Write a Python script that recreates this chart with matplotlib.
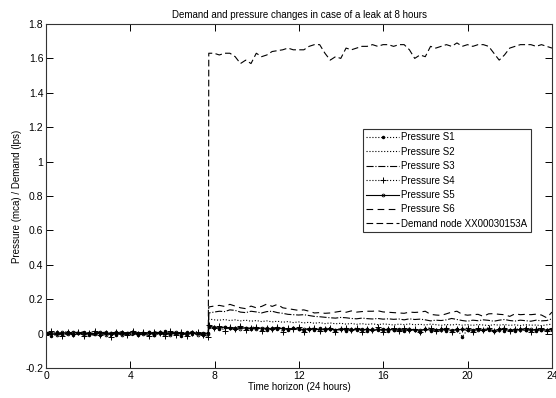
# Demand and pressure changes for a leak starting near hour 8
import numpy as np
import matplotlib.pyplot as plt

plt.rcParams['font.family'] = ['Liberation Sans', 'DejaVu Sans']

# readings before the leak (0 .. 7.7 h) and after it (7.72 .. 24 h)
s1_pre = [0.004, -0.012, 0.008, -0.003, 0.010, -0.009, 0.002, 0.012, -0.006, 0.005, -0.011,
          0.007, 0.000, -0.008, 0.011, -0.004, 0.006, -0.010, 0.003, 0.009, -0.007, 0.001,
          0.013, -0.005, 0.004, -0.012, 0.008, -0.002, 0.006, -0.009, 0.003]
s2_pre = [-0.006, 0.009, 0.002, -0.010, 0.007, 0.004, -0.005, 0.011, -0.008, 0.003, 0.006,
          -0.012, 0.008, 0.001, -0.006, 0.010, -0.003, 0.005, -0.009, 0.012, 0.000, -0.007,
          0.006, 0.009, -0.011, 0.004, -0.002, 0.010, -0.006, 0.002, 0.005]
s3_pre = [0.010, -0.004, -0.011, 0.006, 0.012, -0.007, 0.003, -0.002, 0.009, -0.012, 0.005,
          0.008, -0.006, 0.002, 0.013, -0.009, 0.000, 0.007, -0.004, -0.010, 0.011, 0.004,
          -0.008, 0.006, 0.009, -0.003, -0.011, 0.007, 0.002, -0.006, 0.008]
s4_pre = [-0.010, 0.014, 0.003, -0.016, 0.008, -0.002, 0.012, -0.013, 0.006, 0.015, -0.007,
          0.002, -0.018, 0.010, 0.004, -0.009, 0.016, -0.004, 0.007, -0.014, 0.011, 0.001,
          -0.012, 0.013, -0.006, 0.009, -0.015, 0.005, 0.012, -0.008, -0.017]
s5_pre = [0.006, 0.001, -0.007, 0.009, -0.004, 0.011, 0.003, -0.009, 0.005, -0.001, 0.010,
          -0.006, 0.004, 0.008, -0.010, 0.002, 0.012, -0.005, -0.002, 0.007, -0.008, 0.010,
          0.003, -0.006, 0.009, 0.001, -0.004, 0.011, -0.009, 0.006, 0.000]
s6_pre = [-0.003, 0.008, -0.009, 0.004, 0.010, -0.006, 0.001, 0.012, -0.004, -0.010, 0.007,
          0.003, -0.007, 0.011, -0.001, 0.006, -0.012, 0.008, 0.002, -0.005, 0.009, -0.008,
          0.005, 0.013, -0.003, -0.009, 0.006, 0.010, -0.007, 0.003, -0.004]
demand_pre = [0.002, -0.005, 0.006, 0.000, -0.008, 0.004, 0.007, -0.003, 0.001, -0.006, 0.008,
              -0.002, 0.005, -0.007, 0.003, 0.006, -0.004, 0.000, 0.009, -0.006, 0.002, 0.004,
              -0.009, 0.006, -0.001, 0.003, -0.005, 0.007, 0.000, -0.004, -0.020]

s1_post = [0.040, 0.035, 0.028, 0.038, 0.030, 0.026, 0.036, 0.031, 0.024, 0.034, 0.029,
           0.022, 0.033, 0.027, 0.035, 0.021, 0.030, 0.025, 0.018, 0.028, 0.023, 0.031,
           0.019, 0.026, 0.022, 0.029, 0.017, 0.025, 0.021, 0.027, 0.016, 0.024, 0.020,
           0.028, 0.018, 0.023, 0.026, 0.015, 0.022, 0.019, 0.012, 0.025, 0.017, 0.021,
           0.024, 0.016, 0.020, 0.027, -0.018, 0.022, 0.014, 0.025, 0.019, 0.021, 0.016,
           0.024, 0.018, 0.022, 0.015, 0.026, 0.019, 0.021, 0.017, 0.023, 0.020, 0.022]
s2_post = [0.085, 0.080, 0.078, 0.082, 0.076, 0.080, 0.074, 0.078, 0.072, 0.076, 0.070,
           0.074, 0.068, 0.072, 0.066, 0.070, 0.064, 0.068, 0.062, 0.066, 0.060, 0.064,
           0.058, 0.062, 0.057, 0.060, 0.055, 0.059, 0.054, 0.058, 0.053, 0.057, 0.052,
           0.056, 0.054, 0.050, 0.055, 0.052, 0.056, 0.051, 0.054, 0.050, 0.055, 0.052,
           0.048, 0.053, 0.050, 0.054, 0.049, 0.052, 0.048, 0.053, 0.050, 0.047, 0.052,
           0.049, 0.053, 0.048, 0.051, 0.047, 0.052, 0.049, 0.050, 0.046, 0.051, 0.055]
s3_post = [0.120, 0.125, 0.130, 0.128, 0.138, 0.135, 0.125, 0.122, 0.130, 0.126, 0.120,
           0.128, 0.130, 0.122, 0.118, 0.112, 0.110, 0.108, 0.110, 0.105, 0.100, 0.098,
           0.095, 0.092, 0.090, 0.094, 0.092, 0.088, 0.086, 0.090, 0.087, 0.085, 0.088,
           0.084, 0.086, 0.083, 0.085, 0.080, 0.086, 0.082, 0.084, 0.080, 0.074, 0.078,
           0.076, 0.080, 0.088, 0.082, 0.076, 0.072, 0.078, 0.075, 0.080, 0.077, 0.072,
           0.078, 0.082, 0.076, 0.073, 0.078, 0.075, 0.072, 0.078, 0.074, 0.076, 0.086]
s4_post = [0.050, 0.030, 0.042, 0.018, 0.038, 0.026, 0.044, 0.020, 0.034, 0.040, 0.015,
           0.032, 0.028, 0.038, 0.012, 0.030, 0.024, 0.036, 0.010, 0.027, 0.033, 0.016,
           0.029, 0.035, 0.008, 0.026, 0.031, 0.019, 0.034, 0.012, 0.028, 0.022, 0.036,
           0.010, 0.025, 0.030, 0.014, 0.032, 0.020, 0.027, 0.009, 0.029, 0.034, 0.015,
           0.026, 0.031, 0.011, 0.028, 0.024, 0.033, 0.012, 0.030, 0.022, 0.035, 0.013,
           0.027, 0.032, 0.016, 0.029, 0.024, 0.034, 0.010, 0.028, 0.031, 0.018, 0.030]
s5_post = [0.045, 0.036, 0.032, 0.038, 0.030, 0.034, 0.029, 0.035, 0.031, 0.027, 0.033,
           0.030, 0.026, 0.032, 0.028, 0.025, 0.031, 0.027, 0.024, 0.029, 0.026, 0.023,
           0.028, 0.025, 0.022, 0.027, 0.024, 0.021, 0.026, 0.023, 0.025, 0.020, 0.024,
           0.022, 0.026, 0.021, 0.023, 0.020, 0.025, 0.022, 0.019, 0.024, 0.021, 0.023,
           0.020, 0.025, 0.018, 0.022, 0.024, 0.019, 0.023, 0.021, 0.020, 0.024, 0.018,
           0.022, 0.025, 0.019, 0.021, 0.023, 0.020, 0.024, 0.019, 0.022, 0.021, 0.026]
s6_post = [0.155, 0.160, 0.164, 0.158, 0.170, 0.160, 0.150, 0.145, 0.160, 0.150, 0.158,
           0.172, 0.158, 0.170, 0.150, 0.145, 0.140, 0.135, 0.138, 0.130, 0.120, 0.122,
           0.118, 0.120, 0.125, 0.130, 0.124, 0.132, 0.125, 0.128, 0.130, 0.130, 0.133,
           0.126, 0.124, 0.122, 0.120, 0.118, 0.125, 0.123, 0.125, 0.130, 0.112, 0.108,
           0.106, 0.115, 0.125, 0.130, 0.112, 0.107, 0.110, 0.112, 0.100, 0.115, 0.116,
           0.112, 0.110, 0.100, 0.115, 0.110, 0.112, 0.110, 0.113, 0.108, 0.092, 0.125]
demand_post = [1.63, 1.63, 1.62, 1.63, 1.63, 1.61, 1.57, 1.59, 1.57, 1.63, 1.61,
               1.62, 1.64, 1.645, 1.65, 1.66, 1.65, 1.65, 1.65, 1.67, 1.68, 1.68,
               1.63, 1.59, 1.61, 1.60, 1.66, 1.65, 1.66, 1.67, 1.67, 1.68, 1.67,
               1.68, 1.68, 1.67, 1.68, 1.68, 1.65, 1.60, 1.62, 1.61, 1.67, 1.66,
               1.67, 1.68, 1.67, 1.69, 1.67, 1.68, 1.67, 1.68, 1.68, 1.67, 1.63,
               1.59, 1.62, 1.66, 1.67, 1.68, 1.68, 1.68, 1.67, 1.68, 1.67, 1.66]

labels = ['Pressure S1', 'Pressure S2', 'Pressure S3', 'Pressure S4', 'Pressure S5',
          'Pressure S6', 'Demand node XX00030153A']
x_ticks = [0, 4, 8, 12, 16, 20, 24]
y_ticks = [-0.2, 0, 0.2, 0.4, 0.6, 0.8, 1, 1.2, 1.4, 1.6, 1.8]
y_tick_labels = ['-0.2', '0', '0.2', '0.4', '0.6', '0.8', '1', '1.2', '1.4', '1.6', '1.8']

series = [(s1_pre, s1_post), (s2_pre, s2_post), (s3_pre, s3_post), (s4_pre, s4_post),
          (s5_pre, s5_post), (s6_pre, s6_post), (demand_pre, demand_post)]

styles = [dict(ls=':', marker='.', ms=3),
          dict(ls=':'),
          dict(ls='-.'),
          dict(ls=':', marker='+', ms=4, mew=0.7),
          dict(ls='-', marker='o', ms=2, mfc='none', mew=0.6),
          dict(ls=(0, (6, 4))),
          dict(ls=(0, (6, 3)))]

fig = plt.figure(figsize=(5.56, 3.98), dpi=100)
ax = fig.add_axes([46 / 556, 30 / 398, 506 / 556, 344 / 398])

for (pre, post), lab, st in zip(series, labels, styles):
    t = np.concatenate([np.linspace(0, 7.7, len(pre)), np.linspace(7.72, 24, len(post))])
    y = np.concatenate([pre, post])
    ax.plot(t, y, color='black', lw=0.8, label=lab, **st)

ax.set_xlim(0, 24)
ax.set_ylim(-0.2, 1.8)
ax.set_xticks(x_ticks)
ax.set_yticks(y_ticks)
ax.set_yticklabels(y_tick_labels)
ax.tick_params(direction='in', length=5, width=0.7, top=True, right=True,
               labelsize=7.5, colors='black', pad=2)
for sp in ax.spines.values():
    sp.set_linewidth(0.8)
    sp.set_color('#333333')

ax.set_title('Demand and pressure changes in case of a leak at 8 hours', fontsize=7, pad=4)
ax.set_xlabel('Time horizon (24 hours)', fontsize=7, labelpad=1)
ax.set_ylabel('Pressure (mca) / Demand (lps)', fontsize=7, labelpad=2)

leg = ax.legend(loc='lower left', bbox_to_anchor=(0.626, 0.395), borderaxespad=0,
                fontsize=7, handlelength=3.4, handletextpad=0.2, labelspacing=0.45,
                borderpad=0.35, fancybox=False, framealpha=1, edgecolor='#333333')
leg.get_frame().set_linewidth(0.8)

fig.savefig('out.png', dpi=100)
